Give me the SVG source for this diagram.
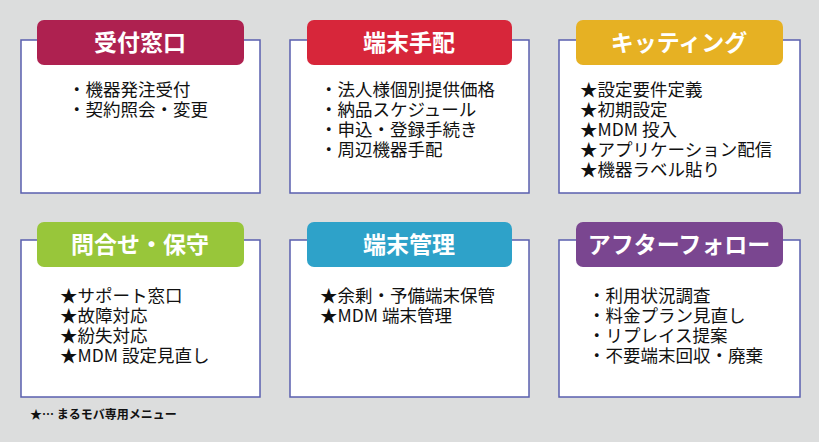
<svg xmlns="http://www.w3.org/2000/svg" width="819" height="442" viewBox="0 0 819 442">
<style>
.card{fill:#fff;stroke:#5a5fae;stroke-width:1.5}
.hd{font-family:"Noto Sans CJK JP","Noto Sans",sans-serif;font-weight:bold;font-size:23px;fill:#fff;text-anchor:middle}
.tx{font-family:"Noto Sans CJK JP","Noto Sans",sans-serif;font-size:17.5px;fill:#111}
.ft{font-family:"Noto Sans CJK JP","Noto Sans",sans-serif;font-size:12px;font-weight:bold;fill:#111}
</style>
<rect width="819" height="442" fill="#dcdddd"/>
<g id="n1"><rect class="card" x="21" y="40" width="239" height="153"/><rect x="37" y="20" width="207" height="45" rx="7" fill="#ae2150"/><text class="hd" x="140" y="51">受付窓口</text>
<text class="tx" x="68" y="96">・機器発注受付</text><text class="tx" x="68" y="116">・契約照会・変更</text></g>
<g id="n2"><rect class="card" x="290" y="40" width="239" height="153"/><rect x="307" y="20" width="205" height="45" rx="7" fill="#d7263a"/><text class="hd" x="409" y="51">端末手配</text>
<text class="tx" x="320" y="96">・法人様個別提供価格</text><text class="tx" x="320" y="116">・納品スケジュール</text><text class="tx" x="320" y="136">・申込・登録手続き</text><text class="tx" x="320" y="156">・周辺機器手配</text></g>
<g id="n3"><rect class="card" x="559" y="40" width="241" height="153"/><rect x="576" y="20" width="207" height="45" rx="7" fill="#e6b123"/><text class="hd" x="679" y="51">キッティング</text>
<text class="tx" x="580" y="96">★設定要件定義</text><text class="tx" x="580" y="116">★初期設定</text><text class="tx" x="580" y="136">★MDM 投入</text><text class="tx" x="580" y="156">★アプリケーション配信</text><text class="tx" x="580" y="176">★機器ラベル貼り</text></g>
<g id="n4"><rect class="card" x="21" y="240" width="239" height="157"/><rect x="37" y="222" width="207" height="45" rx="7" fill="#98c63a"/><text class="hd" x="140" y="253">問合せ・保守</text>
<text class="tx" x="60" y="302">★サポート窓口</text><text class="tx" x="60" y="322">★故障対応</text><text class="tx" x="60" y="342">★紛失対応</text><text class="tx" x="60" y="362">★MDM 設定見直し</text></g>
<g id="n5"><rect class="card" x="290" y="240" width="239" height="157"/><rect x="307" y="222" width="205" height="45" rx="7" fill="#2ea2c9"/><text class="hd" x="409" y="253">端末管理</text>
<text class="tx" x="320" y="302">★余剰・予備端末保管</text><text class="tx" x="320" y="322">★MDM 端末管理</text></g>
<g id="n6"><rect class="card" x="559" y="240" width="241" height="157"/><rect x="576" y="222" width="207" height="45" rx="7" fill="#7a4690"/><text class="hd" x="679" y="253">アフターフォロー</text>
<text class="tx" x="588" y="302">・利用状況調査</text><text class="tx" x="588" y="322">・料金プラン見直し</text><text class="tx" x="588" y="342">・リプレイス提案</text><text class="tx" x="588" y="362">・不要端末回収・廃棄</text></g>
<g id="connectors"/>
<text class="ft" x="30" y="419">★… まるモバ専用メニュー</text>
</svg>
